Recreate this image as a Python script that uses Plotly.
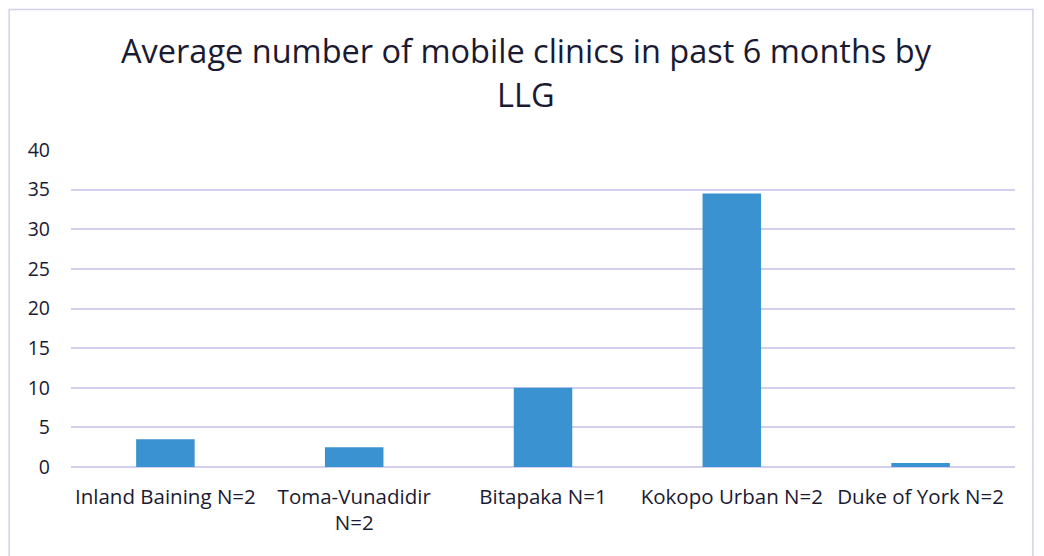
import plotly.graph_objects as go

# data
categories = ["Inland Baining N=2", "Toma-Vunadidir<br>N=2", "Bitapaka N=1",
              "Kokopo Urban N=2", "Duke of York N=2"]
avg_clinics = [3.5, 2.5, 10, 34.5, 0.5]
y_ticks = [0, 5, 10, 15, 20, 25, 30, 35, 40]
title_lines = ["Average number of mobile clinics in past 6 months by", "LLG"]

text_color = "#1b1a33"
grid_color = "#d3cfee"
bar_color = "#3a93d0"

fig = go.Figure(go.Bar(
    x=categories,
    y=avg_clinics,
    marker=dict(color=bar_color, line=dict(width=0)),
))

# page body has an 8px margin, so the figure is 8px smaller and margins shifted
fig.update_layout(
    width=1036, height=548,
    paper_bgcolor="white", plot_bgcolor="white",
    margin=dict(l=63, r=29, t=142, b=89),
    font=dict(family="Open Sans", color=text_color, size=20),
    bargap=0.69,
    showlegend=False,
)

fig.update_xaxes(showgrid=False, showline=False, ticks="", tickfont=dict(size=20.5),
                 ticklabelstandoff=15)
fig.update_yaxes(range=[0, 40], tickvals=y_ticks, showgrid=True, gridcolor=grid_color,
                 gridwidth=1.5, zeroline=True, zerolinecolor=grid_color, zerolinewidth=1.5,
                 showline=False, ticks="", tickfont=dict(size=19.5), ticklabelstandoff=20)

# title as two lines (spacing like the original)
for txt, ypos in zip(title_lines, [1.315, 1.175]):
    fig.add_annotation(text=txt, xref="paper", yref="paper", x=0.482, y=ypos,
                       xanchor="center", yanchor="middle", showarrow=False,
                       font=dict(size=32.5, color=text_color))

# chart frame
fig.add_shape(type="rect", xref="paper", yref="paper",
              x0=-0.0655, x1=1.019, y0=-0.35, y1=1.443,
              line=dict(color=grid_color, width=1.5), layer="below")

fig.write_html("out.html")
